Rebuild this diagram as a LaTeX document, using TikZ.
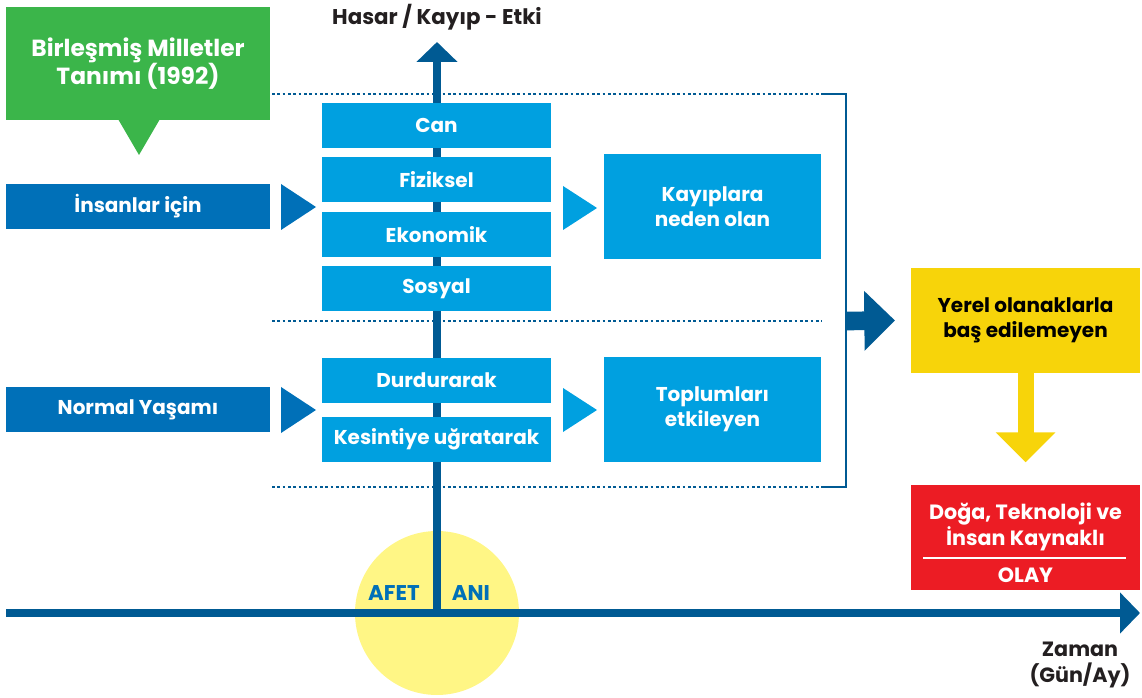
\documentclass[tikz,border=0pt]{standalone}
\usepackage{fontspec}
\setmainfont{Poppins}
\usetikzlibrary{arrows.meta}
\definecolor{dblue}{HTML}{0070B8}
\definecolor{lblue}{HTML}{00A0E0}
\definecolor{navy}{HTML}{005A93}
\definecolor{ugreen}{HTML}{3BB54A}
\definecolor{uyellow}{HTML}{F7D40A}
\definecolor{ured}{HTML}{EC1C24}
\definecolor{pale}{HTML}{FFF685}
\definecolor{ink}{HTML}{231F20}
\begin{document}
\begin{tikzpicture}[x=0.75pt,y=-0.75pt,
  box/.style={fill=#1,text=white,inner sep=0pt,outer sep=0pt,align=center,
    font=\bfseries\fontsize{15}{19}\selectfont},
  cat/.style={box=lblue,minimum width=171.75pt,minimum height=33.75pt},
  side/.style={box=dblue,minimum width=198pt,minimum height=33.75pt},
  big/.style={box=#1,minimum width=162.75pt,minimum height=78.75pt},
  wide/.style={box=#1,minimum width=171.75pt,minimum height=78.75pt},
  sep/.style={navy,line width=2pt,dotted},
  axis/.style={navy,line width=6pt,-{Triangle[length=15pt,width=30pt]}}]
\useasboundingbox (0,0) rectangle (1142,698);

\fill[pale] (437,613) circle (61.5pt);

\node[] (O) at (437,613) {};
\coordinate (Y) at (437,42);
\coordinate (X) at (1140,613);
\coordinate (X0) at (6,613);
\draw[axis] (O.center) -- (Y);
\draw[axis] (X0) -- (X);

\node[font=\bfseries\fontsize{16}{19}\selectfont,text=ink] (etki) at (437,17) {Hasar / Kayıp - Etki};
\node[font=\bfseries\fontsize{15.5}{19.5}\selectfont,text=ink,align=center] (zaman) at (1080,665) {Zaman\\(Gün/Ay)};
\node[font=\bfseries\fontsize{16}{19}\selectfont,text=dblue] (afet) at (394,593) {AFET};
\node[font=\bfseries\fontsize{16}{19}\selectfont,text=dblue] (ani) at (471,593) {ANI};

% dotted separators and bracket
\draw[sep] (272,94) -- (822,94);
\draw[sep] (272,321) -- (822,321);
\draw[sep] (272,487) -- (822,487);
\draw[navy,line width=2.2pt] (822,94) -| (846,487) -- (822,487);

\node[box=ugreen,minimum width=198pt,minimum height=84.75pt,
  font=\bfseries\fontsize{17.5}{21}\selectfont] (un) at (138,63.5) {Birleşmiş Milletler\\Tanımı (1992)};
\fill[ugreen] (118,119) -- (160,119) -- (139,155) -- cycle;

\node[side] (ins) at (138,206.5) {İnsanlar için};
\node[side] (nor) at (138,409.5) {Normal Yaşamı};
\fill[dblue] (281,184) -- (316,207) -- (281,230) -- cycle;
\fill[dblue] (281,387) -- (316,410) -- (281,433) -- cycle;

\node[cat] (can) at (436.5,125.5) {Can};
\node[cat] (fiz) at (436.5,179.5) {Fiziksel};
\node[cat] (eko) at (436.5,234.5) {Ekonomik};
\node[cat] (sos) at (436.5,288.5) {Sosyal};
\node[cat] (dur) at (436.5,380.5) {Durdurarak};
\node[cat] (kes) at (436.5,439.5) {Kesintiye uğratarak};

\fill[lblue] (563,186) -- (597,208) -- (563,230) -- cycle;
\fill[lblue] (563,388) -- (597,410) -- (563,432) -- cycle;

\node[big=lblue] (kay) at (712.5,206.5) {Kayıplara\\neden olan};
\node[big=lblue] (top) at (712.5,409.5) {Toplumları\\etkileyen};

\coordinate (br) at (846,321);
\node[wide=uyellow,text=black] (yer) at (1025.5,320.5) {Yerel olanaklarla\\baş edilemeyen};
\draw[navy,line width=14pt,-{Triangle[length=23pt,width=43.5pt]}] (br) -- ([xshift=-12pt]yer.west);

\node[wide=ured] (ola) at (1025.5,537.5) {};
\draw[uyellow,line width=12pt,-{Triangle[length=22.5pt,width=43.5pt]}] (yer.south) -- ([yshift=17pt]ola.north);
\node[font=\bfseries\fontsize{15.5}{19.5}\selectfont,text=white,align=center] (dtik) at (1025.5,527) {Doğa, Teknoloji ve\\İnsan Kaynaklı};
\draw[white,line width=1.5pt] (923,558) -- (1126,558);
\node[font=\bfseries\fontsize{15.5}{19}\selectfont,text=white] (olay) at (1025.5,575) {OLAY};
\end{tikzpicture}
\end{document}
